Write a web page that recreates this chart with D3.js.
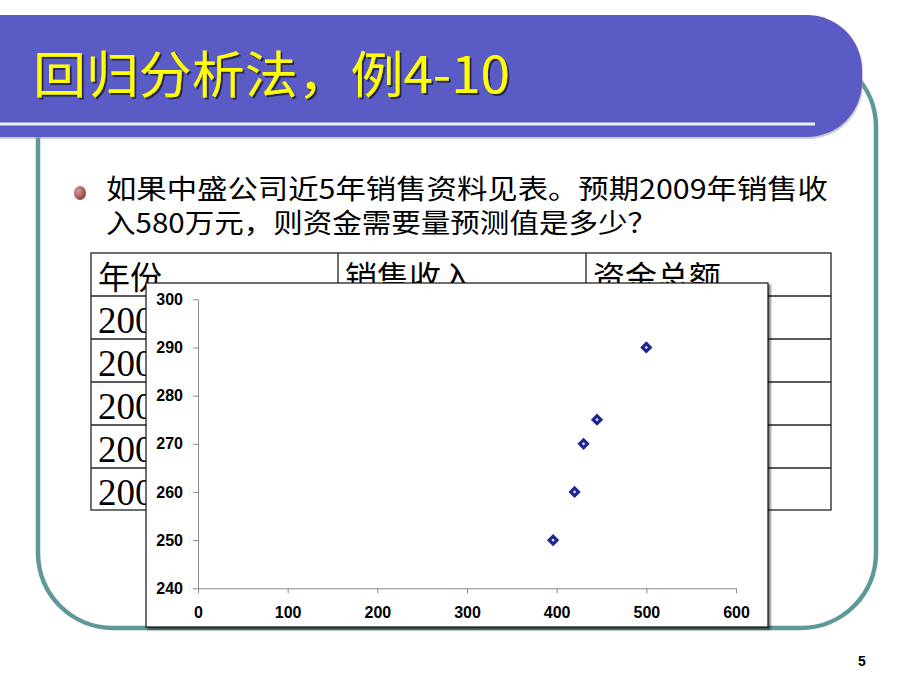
<!DOCTYPE html>
<html>
<head>
<meta charset="utf-8">
<script src="https://cdn.jsdelivr.net/npm/d3@7/dist/d3.min.js"></script>
<style>
  html, body { margin: 0; padding: 0; background: #fff; }
  svg { display: block; }
</style>
</head>
<body>
<svg id="slide" width="920" height="690"></svg>
<script>
// ---- data ----
const titleText = "回归分析法，例4-10";
const bulletLines = ["如果中盛公司近5年销售资料见表。预期2009年销售收", "入580万元，则资金需要量预测值是多少？"];
const tableHeaders = ["年份", "销售收入", "资金总额"];
const years = ["2004", "2005", "2006", "2007", "2008"];
const sales = [396, 420, 430, 445, 500];
const funds = [250, 260, 270, 275, 290];
const xTicks = [0, 100, 200, 300, 400, 500, 600];
const yTicks = [240, 250, 260, 270, 280, 290, 300];
const pageNumber = "5";

const svg = d3.select("#slide");
const defs = svg.append("defs");

const bg = defs.append("radialGradient").attr("id", "bulletGrad").attr("cx", "35%").attr("cy", "35%").attr("r", "70%");
bg.append("stop").attr("offset", "0%").attr("stop-color", "#d99a9a");
bg.append("stop").attr("offset", "100%").attr("stop-color", "#8e3f3f");

const sh = defs.append("filter").attr("id", "boxShadow").attr("x", "-5%").attr("y", "-5%").attr("width", "110%").attr("height", "110%");
sh.append("feDropShadow").attr("dx", 2).attr("dy", 2).attr("stdDeviation", 1.2).attr("flood-color", "#000").attr("flood-opacity", 0.55);

const ts = defs.append("filter").attr("id", "titleShadow").attr("x", "-5%").attr("y", "-20%").attr("width", "110%").attr("height", "140%");
ts.append("feDropShadow").attr("dx", 2).attr("dy", 2).attr("stdDeviation", 0.6).attr("flood-color", "#22224a").attr("flood-opacity", 0.9);

defs.append("clipPath").attr("id", "yearClip")
  .append("rect").attr("x", 0).attr("y", 0).attr("width", 146).attr("height", 690);

// ---- teal rounded frame ----
svg.append("rect")
  .attr("x", 38).attr("y", 52).attr("width", 838).attr("height", 576)
  .attr("rx", 75).attr("ry", 75)
  .attr("fill", "none").attr("stroke", "#5e9898").attr("stroke-width", 4.5);

// ---- title band ----
svg.append("rect")
  .attr("x", -80).attr("y", 17).attr("width", 943).attr("height", 122)
  .attr("rx", 55).attr("ry", 55)
  .attr("fill", "#9a9aa8").attr("opacity", 0.5);
svg.append("rect")
  .attr("x", -80).attr("y", 15).attr("width", 942).attr("height", 122)
  .attr("rx", 55).attr("ry", 55)
  .attr("fill", "#5b5bc6");
svg.append("rect")
  .attr("x", 0).attr("y", 122.5).attr("width", 815).attr("height", 3)
  .attr("fill", "#eceefa");

svg.append("text")
  .attr("x", 33).attr("y", 93)
  .attr("font-family", "'Noto Sans CJK SC', sans-serif")
  .attr("font-size", 50).attr("font-weight", 400)
  .attr("fill", "#ffff00")
  .attr("filter", "url(#titleShadow)")
  .attr("textLength", 477).attr("lengthAdjust", "spacingAndGlyphs")
  .text(titleText);

// ---- bullet text ----
svg.append("ellipse").attr("cx", 80).attr("cy", 193).attr("rx", 6).attr("ry", 7).attr("fill", "url(#bulletGrad)");
const lineWidths = [722, 551];
const lineY = [199, 233];
bulletLines.forEach((t, i) => {
  svg.append("text")
    .attr("x", 106).attr("y", lineY[i])
    .attr("font-family", "'Noto Sans CJK SC', sans-serif")
    .attr("font-size", 27)
    .attr("fill", "#000")
    .attr("textLength", lineWidths[i]).attr("lengthAdjust", "spacingAndGlyphs")
    .text(t);
});

// ---- table ----
const tbl = svg.append("g");
const colX = [91, 338, 586, 831];
const rowY = [253, 296, 339, 382, 425, 468, 510];
tbl.append("rect").attr("x", colX[0]).attr("y", rowY[0]).attr("width", colX[3] - colX[0]).attr("height", rowY[6] - rowY[0])
  .attr("fill", "#fff").attr("stroke", "#222").attr("stroke-width", 1.3);
rowY.slice(1, 6).forEach(y => tbl.append("line").attr("x1", colX[0]).attr("x2", colX[3]).attr("y1", y).attr("y2", y).attr("stroke", "#222").attr("stroke-width", 1.3));
colX.slice(1, 3).forEach(x => tbl.append("line").attr("x1", x).attr("x2", x).attr("y1", rowY[0]).attr("y2", rowY[6]).attr("stroke", "#222").attr("stroke-width", 1.3));
tableHeaders.forEach((h, i) => {
  tbl.append("text").attr("x", colX[i] + 7).attr("y", 289)
    .attr("font-family", "'Noto Sans CJK SC', sans-serif").attr("font-size", 32).attr("fill", "#000").text(h);
});
const yearG = tbl.append("g").attr("clip-path", "url(#yearClip)");
years.forEach((yr, i) => {
  yearG.append("text").attr("x", colX[0] + 7).attr("y", rowY[i + 1] + 37)
    .attr("font-family", "'Liberation Serif', 'Times New Roman', serif").attr("font-size", 37).attr("fill", "#000").text(yr);
});

// ---- chart box ----
svg.append("rect").attr("x", 146).attr("y", 283).attr("width", 622).attr("height", 344)
  .attr("fill", "#fff").attr("stroke", "#111").attr("stroke-width", 1.2).attr("filter", "url(#boxShadow)");

const x = d3.scaleLinear().domain([0, 600]).range([198, 736]);
const y = d3.scaleLinear().domain([240, 300]).range([588.3, 299.3]);

const axisFont = "'Liberation Sans', Arial, sans-serif";
const yAxis = svg.append("g").attr("transform", `translate(${x(0)},0)`)
  .call(d3.axisLeft(y).tickValues(yTicks).tickSize(5).tickPadding(10).tickSizeOuter(0));
const xAxis = svg.append("g").attr("transform", `translate(0,${y(240)})`)
  .call(d3.axisBottom(x).tickValues(xTicks).tickSize(5).tickPadding(13).tickSizeOuter(0));
[yAxis, xAxis].forEach(a => {
  a.selectAll("path, line").attr("stroke", "#8a8a8a").attr("stroke-width", 1);
  a.selectAll("text").attr("font-family", axisFont).attr("font-size", 16).attr("font-weight", "bold").attr("fill", "#000");
});

const pts = sales.map((s, i) => ({ s, f: funds[i] }));
svg.append("g").selectAll("rect").data(pts).join("rect")
  .attr("x", -2.75).attr("y", -2.75).attr("width", 5.5).attr("height", 5.5)
  .attr("transform", d => `translate(${x(d.s)},${y(d.f)}) rotate(45)`)
  .attr("fill", "#e8ecff").attr("stroke", "#1f2690").attr("stroke-width", 3.2);

// ---- page number ----
svg.append("text").attr("x", 862).attr("y", 666).attr("text-anchor", "middle")
  .attr("font-family", axisFont).attr("font-size", 14).attr("font-weight", "bold").attr("fill", "#000").text(pageNumber);
</script>
</body>
</html>
